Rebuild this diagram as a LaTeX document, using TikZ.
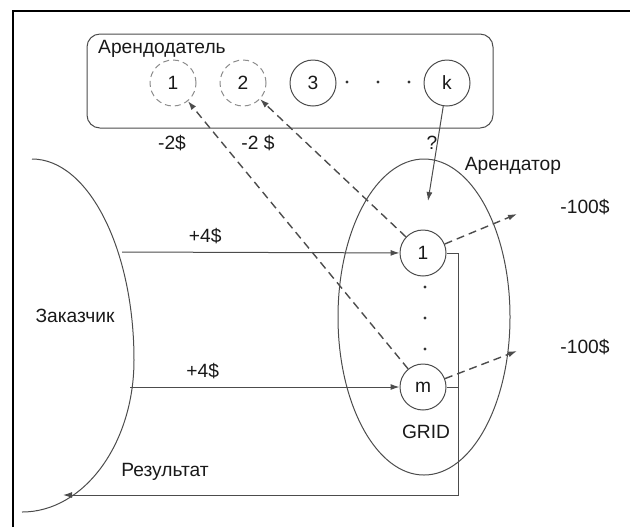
\documentclass[tikz,border=0pt]{standalone}
\usepackage{fontspec}
\setmainfont{Liberation Sans}
\usetikzlibrary{arrows.meta,shapes.geometric}

\begin{document}
\begin{tikzpicture}[
  x=0.5pt, y=-0.5pt,
  font=\fontsize{9.6}{11}\selectfont,
  >={Latex[length=4.5pt,width=3pt]},
  % frame and plain connectors
  frame/.style={draw=black, line width=1pt},
  link/.style={draw=black!70, line width=0.5pt},
  rent/.style={draw=black!70, line width=0.7pt, dash pattern=on 4pt off 2.5pt, ->},
  % lessor box and its machines
  lessorbox/.style={draw=black!70, line width=0.5pt, rounded corners=6.5pt,
                    minimum width=203pt, minimum height=47pt, inner sep=0pt},
  ring/.style={circle, draw=black!70, line width=0.5pt, minimum size=23pt,
               inner sep=0pt, text=black!90},
  ringFree/.style={ring, draw=black!45, dash pattern=on 3pt off 2pt},
  dotc/.style={fill=black!80},
  % tenant domain
  tenantell/.style={ellipse, draw=black!70, line width=0.5pt,
                    minimum width=86pt, minimum height=158pt, inner sep=0pt},
  % labels
  lbl/.style={text=black!90, inner sep=1pt},
]

\useasboundingbox (0,0) rectangle (630,527);

% ── Frame ────────────────────────────────────────────────────────────────
\draw[frame] (13,527) |- (630,11);

% ── Lessor (Арендодатель) ────────────────────────────────────────────────
\node[lessorbox] (lessor) at (290,81) {};
\node[lbl] (lessorLbl) at (162,49) {Арендодатель};
\node[ringFree] (c1) at (173,83) {1};
\node[ringFree] (c2) at (243,83) {2};
\node[ring]     (c3) at (313,83) {3};
\node[ring]     (ck) at (447,83) {k};
\foreach \x in {347,378,409}
  \fill[dotc] (\x,82) circle[radius=0.8pt];

% ── Tenant (Арендатор) ───────────────────────────────────────────────────
\node[tenantell] (grid) at (424,317) {};
\node[lbl] (tenantLbl) at (513,166) {Арендатор};
\node[ring] (t1) at (423,253) {1};
\node[ring] (tm) at (423,387) {m};
\foreach \y in {287,318,349}
  \fill[dotc] (425,\y) circle[radius=0.8pt];
\node[lbl] (gridLbl) at (426,432) {GRID};

% ── Customer (Заказчик) ──────────────────────────────────────────────────
\draw[link] (32,159) arc[start angle=-90, end angle=0, x radius=102, y radius=201]
                     arc[start angle=0, end angle=90, x radius=112, y radius=152];
\node[lbl] (custLbl) at (75,316) {Заказчик};

% free ends of the connectors
\coordinate (in1)  at (122,252);
\coordinate (inm)  at (130,387);
\coordinate (res)  at (63,495);
\coordinate (rTop) at (458,253);
\coordinate (rBot) at (458,495);
\coordinate (kEnd) at (428,201);
\coordinate (out1) at (517,214);
\coordinate (outm) at (517,351);

% ── Payments ─────────────────────────────────────────────────────────────
\draw[link,->] (in1) -- node[lbl, above=3pt, pos=0.3] {+4\$} (t1);
\draw[link,->] (inm) -- node[lbl, above=3pt, pos=0.27] {+4\$} (tm);

\draw[rent] (tm) -- (c1);
\draw[rent] (t1) -- (c2);
\node[lbl] (pay1) at (172,143) {-2\$};
\node[lbl] (pay2) at (258,143) {-2 \$};

\draw[link,->] (ck) -- (kEnd);
\node[lbl] (ask) at (432,143) {?};

\draw[rent] (t1) -- (out1);
\draw[rent] (tm) -- (outm);
\node[lbl] (loss1) at (585,207) {-100\$};
\node[lbl] (lossm) at (585,347) {-100\$};

% ── Result ───────────────────────────────────────────────────────────────
\draw[link,->] (t1) -- (rTop) -- (rBot) -- (res);
\draw[link] (tm) -- (tm -| rTop);
\node[lbl] (resLbl) at (165,472) {Результат};

\end{tikzpicture}
\end{document}
